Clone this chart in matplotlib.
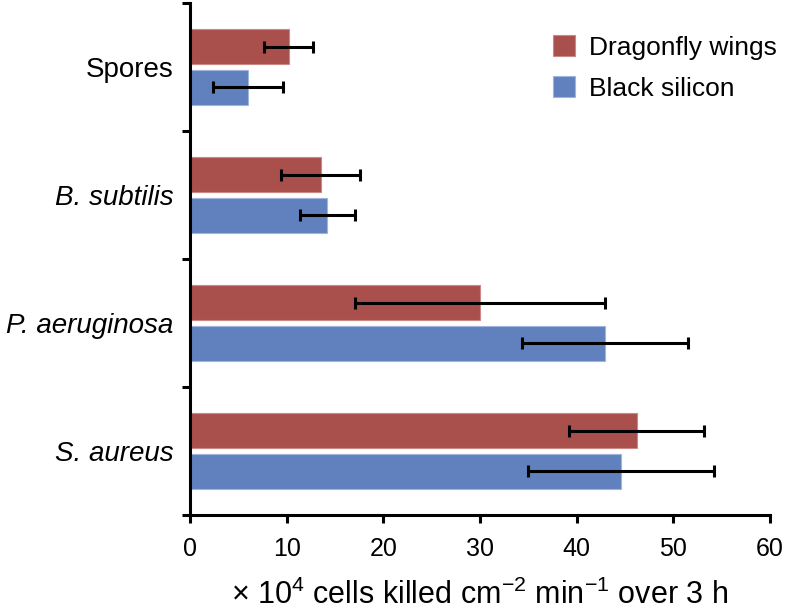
import numpy as np
import matplotlib
matplotlib.use("Agg")
import matplotlib.pyplot as plt
from matplotlib.ticker import FixedLocator, NullFormatter

plt.rcParams['font.family'] = ['Liberation Sans', 'DejaVu Sans']
plt.rcParams['mathtext.default'] = 'regular'

# data (top to bottom)
categories = ['Spores', 'B. subtilis', 'P. aeruginosa', 'S. aureus']
italic_label = [False, True, True, True]
dragonfly = [10.2, 13.5, 30.0, 46.2]
dragonfly_err = [2.5, 4.1, 12.9, 7.0]
black_si = [6.0, 14.2, 42.9, 44.6]
black_si_err = [3.6, 2.85, 8.6, 9.6]
x_ticks = [0, 10, 20, 30, 40, 50, 60]

red = '#A94F4C'
blue = '#6081BD'

fig = plt.figure(figsize=(7.88, 6.13), dpi=100)
ax = fig.add_axes([190/788, 1 - 515/613, 580/788, 512/613])

y = np.arange(len(categories))
h = 0.27
off = 0.16

err_kw = dict(ecolor='black', elinewidth=2.2, capsize=4, capthick=2.2)
ax.barh(y - off, dragonfly, height=h, color=red, edgecolor='#C98986', linewidth=0.8,
        xerr=dragonfly_err, error_kw=err_kw, label='Dragonfly wings')
ax.barh(y + off, black_si, height=h, color=blue, edgecolor='#9FB5DD', linewidth=0.8,
        xerr=black_si_err, error_kw=err_kw, label='Black silicon')

ax.set_xlim(0, 60)
ax.set_ylim(len(categories) - 0.5, -0.5)

for s in ['top', 'right']:
    ax.spines[s].set_visible(False)
ax.spines['left'].set_linewidth(2.2)
ax.spines['bottom'].set_linewidth(2.2)

ax.set_xticks(x_ticks)
ax.tick_params(axis='x', direction='out', length=6, width=2.2, labelsize=18, pad=10)

# category labels without tick marks, ticks at the boundaries
ax.set_yticks(y)
ax.set_yticklabels(categories, fontsize=20)
for lab, it in zip(ax.get_yticklabels(), italic_label):
    if it:
        lab.set_style('italic')
ax.tick_params(axis='y', which='major', length=0, pad=12)
ax.yaxis.set_minor_locator(FixedLocator(np.arange(-0.5, len(categories), 1.0)))
ax.yaxis.set_minor_formatter(NullFormatter())
ax.tick_params(axis='y', which='minor', direction='out', length=6, width=2.2)

ax.set_xlabel(r'$\times$ 10$^4$ cells killed cm$^{-2}$ min$^{-1}$ over 3 h', fontsize=22, labelpad=13)

ax.legend(loc='upper left', bbox_to_anchor=(553/788, 1 - 35/613), bbox_transform=fig.transFigure,
          frameon=False, fontsize=19, handlelength=0.85, handleheight=0.85,
          handletextpad=0.5, labelspacing=0.62, borderpad=0, borderaxespad=0)

fig.savefig('out.png', dpi=100)
